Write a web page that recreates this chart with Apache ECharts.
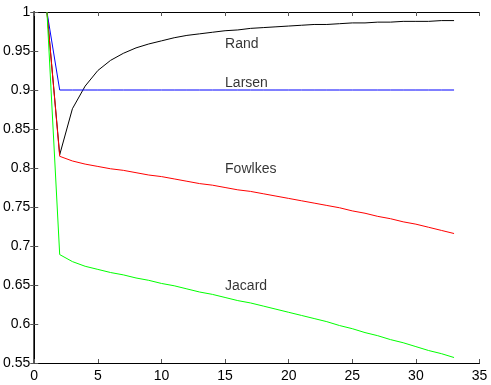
<!DOCTYPE html>
<html>
<head>
<meta charset="utf-8">
<script src="https://cdn.jsdelivr.net/npm/echarts@6/dist/echarts.min.js"></script>
<style>html,body{margin:0;padding:0;background:#fff}#c{width:491px;height:385px}</style>
</head>
<body>
<div id="c"></div>
<script>
var xs = [1,2,3,4,5,6,7,8,9,10,11,12,13,14,15,16,17,18,19,20,21,22,23,24,25,26,27,28,29,30,31,32,33];
var rand = [1,0.817,0.876,0.905,0.925,0.938,0.947,0.954,0.959,0.963,0.967,0.970,0.972,0.974,0.976,0.977,0.979,0.980,0.981,0.982,0.983,0.984,0.984,0.985,0.986,0.986,0.987,0.987,0.988,0.988,0.988,0.989,0.989];
var larsen = [1,0.9,0.9,0.9,0.9,0.9,0.9,0.9,0.9,0.9,0.9,0.9,0.9,0.9,0.9,0.9,0.9,0.9,0.9,0.9,0.9,0.9,0.9,0.9,0.9,0.9,0.9,0.9,0.9,0.9,0.9,0.9,0.9];
var fowlkes = [1,0.815,0.809,0.805,0.802,0.799,0.797,0.794,0.791,0.789,0.786,0.783,0.780,0.778,0.775,0.772,0.770,0.767,0.764,0.761,0.758,0.755,0.752,0.749,0.745,0.742,0.738,0.735,0.731,0.728,0.724,0.720,0.716];
var jacard = [1,0.689,0.680,0.674,0.670,0.666,0.663,0.659,0.656,0.652,0.649,0.645,0.641,0.638,0.634,0.630,0.627,0.623,0.619,0.615,0.611,0.607,0.603,0.598,0.594,0.589,0.585,0.580,0.576,0.571,0.566,0.562,0.557];
var labelNames = ['Rand','Larsen','Fowlkes','Jacard'];
var labelX = [15,15,15,15];
var labelY = [0.959,0.909,0.799,0.648];

function pairs(ys){ return xs.map(function(x,i){return [x, ys[i]];}); }

var chart = echarts.init(document.getElementById('c'), null, {renderer:'canvas'});
var font = 'Liberation Sans, Arial, Helvetica, sans-serif';
var lineSeries = function(name, data, color){
  return {name:name, type:'line', data:pairs(data), showSymbol:false, symbol:'none',
    lineStyle:{color:color, width:1}, itemStyle:{color:color}, z:3, silent:true};
};
chart.setOption({
  animation:false,
  backgroundColor:'#fff',
  grid:{left:33, right:11.5, top:12, bottom:22, containLabel:false},
  xAxis:[
    {type:'value', min:0, max:35, interval:5, position:'bottom',
     axisLine:{show:true, lineStyle:{color:'#000', width:1}},
     axisTick:{show:true, inside:true, length:4, lineStyle:{color:'#555'}},
     axisLabel:{color:'#000', fontSize:14, fontFamily:font, margin:6},
     splitLine:{show:false}},
    {type:'value', min:0, max:35, interval:5, position:'top',
     axisLine:{show:true, lineStyle:{color:'#000', width:1}},
     axisTick:{show:true, inside:true, length:4, lineStyle:{color:'#555'}},
     axisLabel:{show:false}, splitLine:{show:false}}
  ],
  yAxis:[
    {type:'value', min:0.55, max:1, interval:0.05, position:'left',
     axisLine:{show:true, lineStyle:{color:'#555', width:2}},
     axisTick:{show:true, inside:true, length:4, lineStyle:{color:'#555'}},
     axisLabel:{color:'#000', fontSize:14, fontFamily:font, margin:4,
       formatter:function(v){return String(Math.round(v*100)/100);}},
     splitLine:{show:false}},
    {type:'value', min:0.55, max:1, interval:0.05, position:'right',
     axisLine:{show:true, lineStyle:{color:'#000', width:1}},
     axisTick:{show:true, inside:true, length:4, lineStyle:{color:'#555'}},
     axisLabel:{show:false}, splitLine:{show:false}}
  ],
  series:[
    lineSeries('Rand', rand, '#000000'),
    lineSeries('Larsen', larsen, '#0000ff'),
    lineSeries('Fowlkes', fowlkes, '#ff0000'),
    lineSeries('Jacard', jacard, '#00ff00'),
    {type:'scatter', symbolSize:0, silent:true, z:5,
     data: labelNames.map(function(n,i){return {value:[labelX[i], labelY[i]], name:n};}),
     label:{show:true, position:'right', distance:0, formatter:'{b}', color:'#000', fontSize:14, fontFamily:font}}
  ]
});
</script>
</body>
</html>
